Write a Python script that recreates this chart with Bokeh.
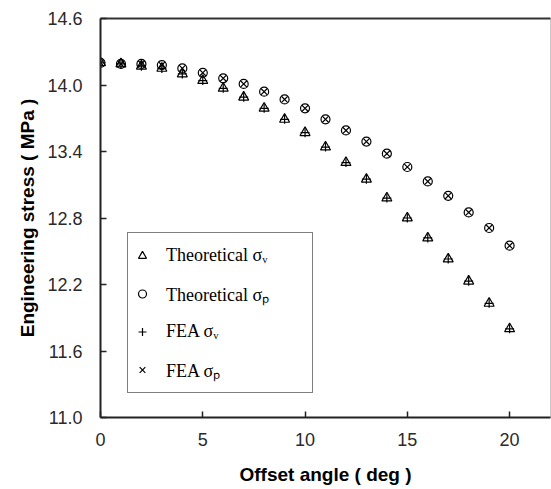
from bokeh.plotting import figure
from bokeh.models import (Range1d, FixedTicker, Legend, LegendItem, LinearAxis,
                          NumeralTickFormatter)
from bokeh.embed import file_html
from bokeh.resources import INLINE

# ---- data ----
offset_angle = list(range(21))
theoretical_sv = [14.20, 14.19, 14.17, 14.15, 14.10, 14.04, 13.97, 13.89, 13.79, 13.69,
                  13.57, 13.44, 13.30, 13.15, 12.98, 12.80, 12.62, 12.43, 12.23, 12.03, 11.80]
theoretical_sp = [14.20, 14.19, 14.19, 14.18, 14.15, 14.11, 14.06, 14.01, 13.94, 13.87,
                  13.79, 13.69, 13.59, 13.49, 13.38, 13.26, 13.13, 13.00, 12.85, 12.71, 12.55]
fea_sv = [14.20, 14.19, 14.17, 14.15, 14.10, 14.04, 13.97, 13.89, 13.79, 13.69,
          13.57, 13.44, 13.30, 13.15, 12.98, 12.80, 12.62, 12.43, 12.23, 12.03, 11.80]
fea_sp = [14.20, 14.19, 14.19, 14.18, 14.15, 14.11, 14.06, 14.01, 13.94, 13.87,
          13.79, 13.69, 13.59, 13.49, 13.38, 13.26, 13.13, 13.00, 12.85, 12.71, 12.55]
x_ticks = [0, 5, 10, 15, 20]
y_ticks = [11.0, 11.6, 12.2, 12.8, 13.4, 14.0, 14.6]
legend_labels = ["Theoretical σᵥ", "Theoretical σₚ", "FEA σᵥ", "FEA σₚ"]

p = figure(width=551, height=489, output_backend="svg", toolbar_location=None,
           x_range=Range1d(0, 22), y_range=Range1d(11.0, 14.6),
           min_border_left=100, min_border_top=18, min_border_right=1,
           min_border_bottom=72)
p.background_fill_color = "white"
p.border_fill_color = "white"
p.xgrid.visible = False
p.ygrid.visible = False
p.outline_line_color = "#c8c8c8"
p.outline_line_width = 1

for ax in (p.xaxis[0], p.yaxis[0]):
    ax.axis_line_color = "#222222"
    ax.axis_line_width = 2
    ax.major_tick_in = 6
    ax.major_tick_out = 0
    ax.major_tick_line_color = "#222222"
    ax.major_tick_line_width = 1.5
    ax.minor_tick_line_color = None
    ax.major_label_text_font = "Liberation Sans"
    ax.major_label_text_font_size = "18px"
    ax.major_label_text_color = "#2a2a2a"
    ax.axis_label_text_font = "Liberation Sans"
    ax.axis_label_text_font_style = "bold"
    ax.axis_label_text_font_size = "19px"
    ax.axis_label_text_color = "black"

p.xaxis.ticker = FixedTicker(ticks=x_ticks)
p.yaxis.ticker = FixedTicker(ticks=y_ticks)
p.yaxis.formatter = NumeralTickFormatter(format="0.0")
p.xaxis.axis_label = "Offset angle ( deg )"
p.yaxis.axis_label = "Engineering stress ( MPa )"
p.xaxis.major_label_standoff = 15
p.yaxis.major_label_standoff = 18
p.xaxis.axis_label_standoff = 15
p.yaxis.axis_label_standoff = 6

top_axis = LinearAxis(ticker=FixedTicker(ticks=[]), axis_line_color="#333333",
                      axis_line_width=2, major_tick_line_color=None,
                      minor_tick_line_color=None, major_label_text_font_size="0px")
p.add_layout(top_axis, "above")

style = dict(fill_color=None, line_color="black", line_width=1.2)
r1 = p.scatter(offset_angle, theoretical_sv, marker="triangle", size=10, **style)
r2 = p.scatter(offset_angle, theoretical_sp, marker="circle", size=9, **style)
r3 = p.scatter(offset_angle, fea_sv, marker="cross", size=9, **style)
r4 = p.scatter(offset_angle, fea_sp, marker="x", size=9, **style)

legend = Legend(items=[LegendItem(label=lab, renderers=[r])
                       for lab, r in zip(legend_labels, [r1, r2, r3, r4])],
                location=(27, 24), padding=4, spacing=1, margin=0,
                glyph_width=20, glyph_height=37, label_height=37,
                label_width=142, label_standoff=14,
                label_text_font="Liberation Serif", label_text_font_size="18px",
                label_text_color="black",
                border_line_color="black", border_line_width=1.5,
                background_fill_color="white", background_fill_alpha=1)
p.add_layout(legend, "center")

open("out.html", "w").write(file_html(p, INLINE))
